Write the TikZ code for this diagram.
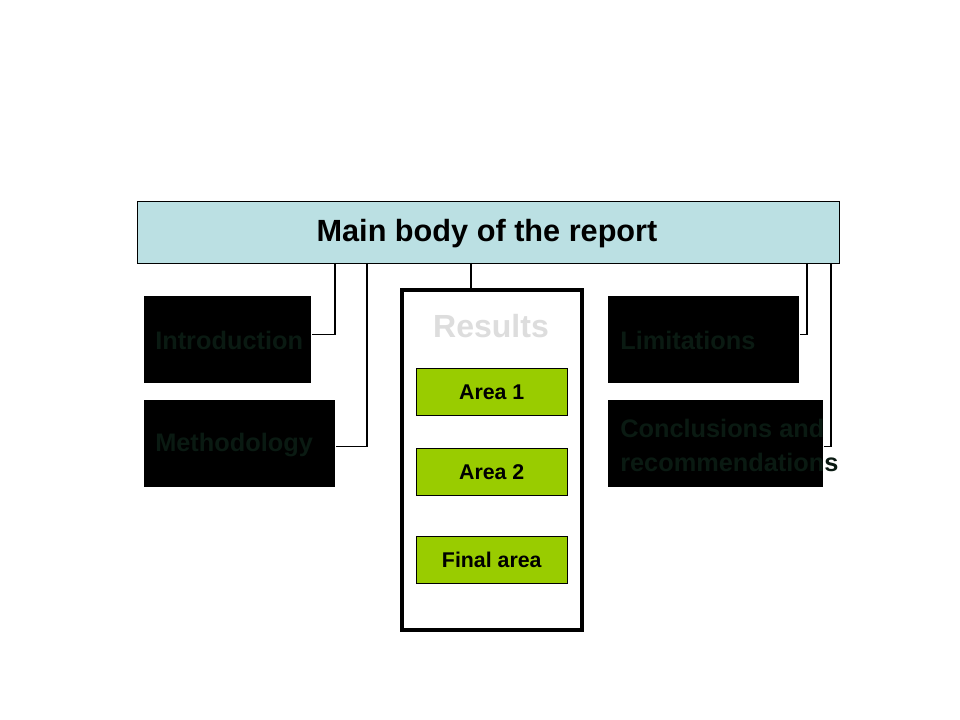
\documentclass[tikz,border=0pt]{standalone}
\usepackage{fontspec}
\setmainfont{Liberation Sans}
\usetikzlibrary{positioning}

\definecolor{headcyan}{RGB}{187,224,227}
\definecolor{areagreen}{RGB}{153,204,0}
\definecolor{darklabel}{RGB}{10,26,18}
\definecolor{resultgray}{RGB}{221,221,221}

\begin{document}
\begin{tikzpicture}[x=0.75pt,y=-0.75pt,
    headbox/.style={rectangle,draw,fill=headcyan,inner sep=0pt,minimum width=702*0.75pt,minimum height=62*0.75pt,
      font=\fontsize{23}{27}\selectfont\bfseries},
    blackbox/.style={rectangle,fill=black,inner sep=0pt,minimum height=87*0.75pt},
    boxlabel/.style={inner sep=0pt,anchor=west,align=left,text=darklabel,
      font=\fontsize{19}{25.5}\selectfont\bfseries},
    resultbox/.style={rectangle,draw,line width=3pt,fill=white,inner sep=0pt,outer sep=0pt,
      minimum width=180*0.75pt,minimum height=340*0.75pt},
    areabox/.style={rectangle,draw,fill=areagreen,inner sep=0pt,minimum width=151*0.75pt,minimum height=47*0.75pt,
      font=\fontsize{16}{19}\selectfont\bfseries},
    link/.style={draw,line width=0.8pt}
    ]

    \useasboundingbox (0,0) rectangle (960,720);

    \node (main) [headbox,anchor=north west] at (137,201) {};
    \node (title) [font=\fontsize{23}{27}\selectfont\bfseries] at (487,234) {Main body of the report};

    \node (intro) [blackbox,anchor=north west,minimum width=167*0.75pt] at (144,296) {};
    \node (method) [blackbox,anchor=north west,minimum width=191*0.75pt] at (144,400) {};
    \node (limit) [blackbox,anchor=north west,minimum width=191*0.75pt] at (608,296) {};
    \node (concl) [blackbox,anchor=north west,minimum width=215*0.75pt] at (608,400) {};

    \node (introtext) [boxlabel] at (155,340) {Introduction};
    \node (methodtext) [boxlabel] at (155,445) {Methodology};
    \node (limittext) [boxlabel] at (620,340) {Limitations};
    \node (concltext) [boxlabel] at (620,445) {Conclusions and\\recommendations};

    \node (results) [resultbox,anchor=north west] at (401.5,290) {};
    \node (resultstext) [text=resultgray,font=\fontsize{24}{28}\selectfont\bfseries] at (491,326) {Results};

    \foreach \name/\y/\txt in {area1/368/Area 1,area2/448/Area 2,area3/536/Final area}
      \node (\name) [areabox,anchor=north west] at (416,\y) {\txt};

    % connectors from the heading
    \coordinate (c1) at (335,263);
    \coordinate (c2) at (367,263);
    \coordinate (c3) at (471,263);
    \coordinate (c4) at (807,263);
    \coordinate (c5) at (831,263);

    \draw[link] (c1) |- ([yshift=4pt]intro.east);
    \draw[link] (c2) |- ([yshift=-2pt]method.east);
    \draw[link] (c3) -- (c3 |- results.north);
    \draw[link] (c4) |- ([yshift=4pt]limit.east);
    \draw[link] (c5) |- ([yshift=-2pt]concl.east);

  \end{tikzpicture}
\end{document}
